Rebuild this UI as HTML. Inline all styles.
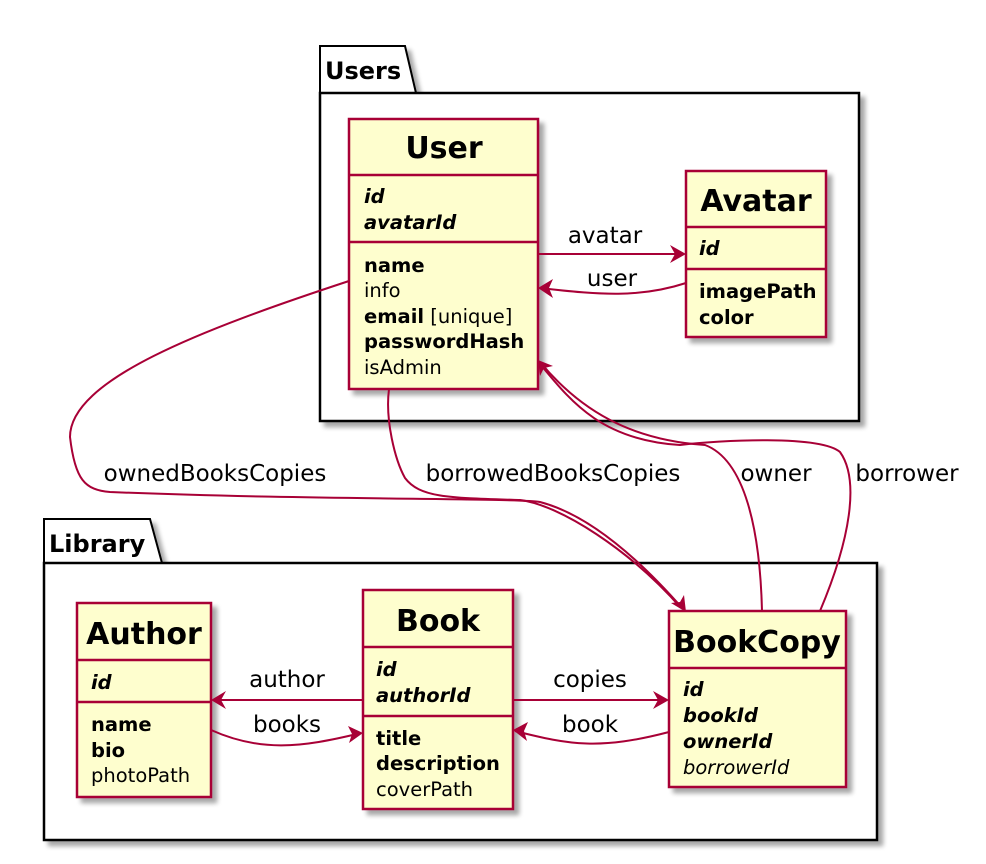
<!DOCTYPE html>
<html><head><meta charset="utf-8"><style>
html,body{margin:0;padding:0;background:#fff;}
svg{display:block;font-family:"DejaVu Sans","Liberation Sans",sans-serif;}
</style></head><body>
<svg width="986" height="864" viewBox="0 0 986 864" xmlns="http://www.w3.org/2000/svg">
<defs>
<filter id="sh" x="-10%" y="-10%" width="130%" height="130%"><feGaussianBlur in="SourceAlpha" stdDeviation="2.5"/><feOffset dx="5" dy="5"/><feComponentTransfer><feFuncA type="linear" slope="0.35"/></feComponentTransfer><feMerge><feMergeNode/><feMergeNode in="SourceGraphic"/></feMerge></filter>
</defs>
<g filter="url(#sh)">
<path d="M320,93 L320,46 L405,46 L416,93 Z" fill="#fff" stroke="#000" stroke-width="2"/>
<rect x="320" y="93" width="539" height="328" fill="#fff" stroke="#000" stroke-width="2.5"/>
</g>
<text x="325" y="79" font-size="24" font-weight="bold">Users</text>
<g filter="url(#sh)">
<path d="M44,563 L44,519 L150,519 L162,563 Z" fill="#fff" stroke="#000" stroke-width="2"/>
<rect x="44" y="563" width="833" height="277" fill="#fff" stroke="#000" stroke-width="2.5"/>
</g>
<text x="49" y="552" font-size="24" font-weight="bold">Library</text>

<g fill="#FEFECE" stroke="#A80036" stroke-width="2.5">
<rect x="349" y="119" width="189" height="270" filter="url(#sh)"/>
<rect x="686" y="171" width="140" height="166" filter="url(#sh)"/>
<rect x="77" y="603" width="134" height="194" filter="url(#sh)"/>
<rect x="363" y="590" width="150" height="219" filter="url(#sh)"/>
<rect x="669" y="611" width="177" height="176" filter="url(#sh)"/>
</g>
<g stroke="#A80036" stroke-width="2.5">
<line x1="349" y1="175" x2="538" y2="175"/><line x1="349" y1="242" x2="538" y2="242"/>
<line x1="686" y1="227" x2="826" y2="227"/><line x1="686" y1="269" x2="826" y2="269"/>
<line x1="77" y1="660" x2="211" y2="660"/><line x1="77" y1="702" x2="211" y2="702"/>
<line x1="363" y1="647" x2="513" y2="647"/><line x1="363" y1="716" x2="513" y2="716"/>
<line x1="669" y1="668" x2="846" y2="668"/>
</g>
<g font-size="30" font-weight="bold" text-anchor="middle">
<text x="444" y="158">User</text>
<text x="756" y="211">Avatar</text>
<text x="144" y="644">Author</text>
<text x="438" y="631">Book</text>
<text x="757" y="652">BookCopy</text>
</g>
<g font-size="19.5">
<text x="364" y="203" font-weight="bold" font-style="italic">id</text>
<text x="364" y="229" font-weight="bold" font-style="italic">avatarId</text>
<text x="364" y="272" font-weight="bold">name</text>
<text x="364" y="297">info</text>
<text x="364" y="323"><tspan font-weight="bold">email</tspan> [unique]</text>
<text x="364" y="348" font-weight="bold">passwordHash</text>
<text x="364" y="374">isAdmin</text>
<text x="699" y="255" font-weight="bold" font-style="italic">id</text>
<text x="699" y="298" font-weight="bold">imagePath</text>
<text x="699" y="324" font-weight="bold">color</text>
<text x="91" y="689" font-weight="bold" font-style="italic">id</text>
<text x="91" y="731" font-weight="bold">name</text>
<text x="91" y="757" font-weight="bold">bio</text>
<text x="91" y="782">photoPath</text>
<text x="376" y="676" font-weight="bold" font-style="italic">id</text>
<text x="376" y="702" font-weight="bold" font-style="italic">authorId</text>
<text x="376" y="745" font-weight="bold">title</text>
<text x="376" y="770" font-weight="bold">description</text>
<text x="376" y="796">coverPath</text>
<text x="683" y="696" font-weight="bold" font-style="italic">id</text>
<text x="683" y="722" font-weight="bold" font-style="italic">bookId</text>
<text x="683" y="748" font-weight="bold" font-style="italic">ownerId</text>
<text x="683" y="774" font-style="italic">borrowerId</text>
</g>

<g fill="none" stroke="#A80036" stroke-width="2">
<line x1="538" y1="254" x2="684" y2="254"/>
<path d="M686,283 C640,298 600,295 540,288"/>
<line x1="363" y1="700" x2="213" y2="700"/>
<path d="M211,730 C260,752 300,748 361,733"/>
<line x1="513" y1="700" x2="667" y2="700"/>
<path d="M669,732 C600,750 570,745 515,731"/>
<path d="M349,281 C200,330 70,380 70,437 C75,480 85,490 110,492 C300,500 520,498 540,502 C590,515 640,560 683,609"/>
<path d="M389,389 C385,420 395,460 405,478 C420,498 450,498 520,500 C560,505 630,550 681,608"/>
<path d="M762,611 C760,530 745,460 705,445 C630,440 580,410 540,362"/>
<path d="M820,611 C850,540 860,480 840,452 C820,435 720,440 680,445 C600,440 570,400 540,364"/>
</g>
<g fill="#A80036">
<path d="M686,254 L670,245 L675,254 L670,263 Z"/>
<path d="M538,288 L553,279 L549,288 L553,298 Z"/>
<path d="M211,700 L226,691 L221,700 L226,709 Z"/>
<path d="M363,733 L348,726 L352,734 L349,743 Z"/>
<path d="M669,700 L653,691 L658,700 L653,709 Z"/>
<path d="M513,730 L528,722 L524,731 L527,741 Z"/>
<path d="M686,612 L684,595 L680,602 L671,603 Z"/>
<path d="M538,360 L540,376 L544,368 L553,366 Z"/>
</g>
<g font-size="23" text-anchor="middle">
<text x="605" y="243">avatar</text>
<text x="612" y="286">user</text>
<text x="287" y="687">author</text>
<text x="287" y="732">books</text>
<text x="590" y="687">copies</text>
<text x="590" y="732">book</text>
<text x="215" y="481">ownedBooksCopies</text>
<text x="553" y="481">borrowedBooksCopies</text>
<text x="776" y="481">owner</text>
<text x="907" y="481">borrower</text>
</g>
</svg>
</body></html>
